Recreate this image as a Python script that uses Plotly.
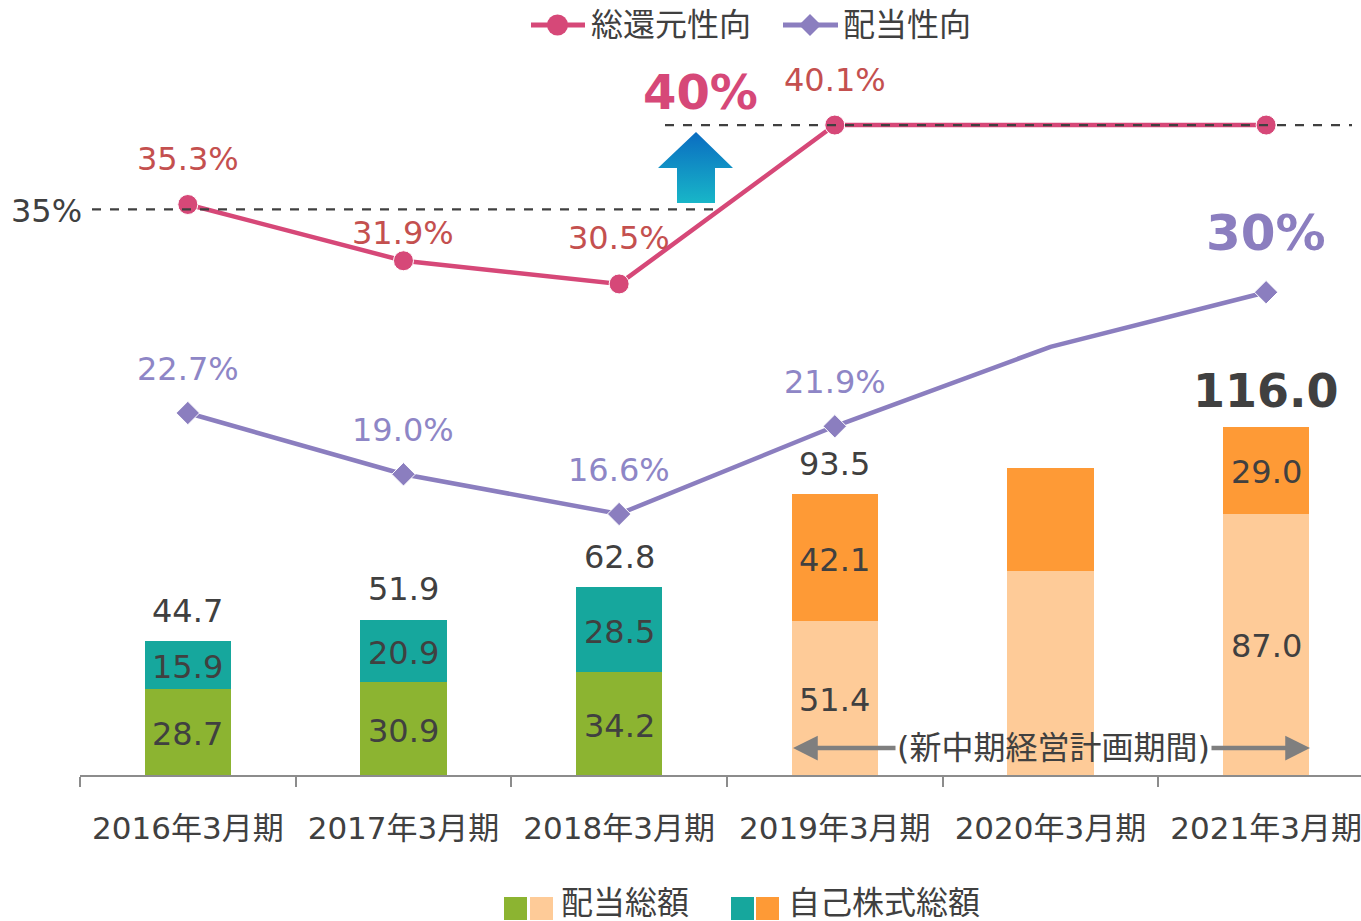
import plotly.graph_objects as go

# ---------------- data ----------------
categories = ["2016年3月期", "2017年3月期", "2018年3月期", "2019年3月期", "2020年3月期", "2021年3月期"]
dividend_total = [28.7, 30.9, 34.2, 51.4, 68.0, 87.0]
buyback_total = [15.9, 20.9, 28.5, 42.1, 34.3, 29.0]
grand_total = [44.7, 51.9, 62.8, 93.5, None, 116.0]
show_segment_labels = [True, True, True, True, False, True]
total_return_ratio = [35.3, 31.9, 30.5, 40.1, 40.1, 40.1]
payout_ratio = [22.7, 19.0, 16.6, 21.9, 26.7, 30.0]
return_labels = ["35.3%", "31.9%", "30.5%", "40.1%", "", ""]
payout_labels = ["22.7%", "19.0%", "16.6%", "21.9%", "", ""]
show_marker = [True, True, True, True, False, True]
target_return = 40
base_return = 35
target_payout = 30

# ---------------- styles ----------------
FONT = "DejaVu Sans, Verdana, Noto Sans CJK JP, sans-serif"
TXT = "#404040"
GREEN, TEAL = "#8CB431", "#16A79D"
LORANGE, ORANGE = "#FECB98", "#FE9A36"
PINK, PINK_LBL = "#D64878", "#C4504F"
PURPLE, PURPLE_LBL = "#8B7EBF", "#8E86C6"
NUM = 32

PAGE_W, PAGE_H = 1361, 921
W, H = PAGE_W, PAGE_H
# plot area in page pixels
PL, PR, PT, PB = 80, 1361, 60, 775


def PX(px):
    return (px - PL) / (PR - PL)


def PY(py):
    return (PB - py) / (PB - PT)


div_colors = [GREEN] * 3 + [LORANGE] * 3
bb_colors = [TEAL] * 3 + [ORANGE] * 3

fig = go.Figure()

fig.add_trace(go.Bar(x=categories, y=dividend_total, marker_color=div_colors,
                     marker_line_width=0, width=0.40, showlegend=False, hoverinfo="skip"))
fig.add_trace(go.Bar(x=categories, y=buyback_total, marker_color=bb_colors,
                     marker_line_width=0, width=0.40, showlegend=False, hoverinfo="skip"))

fig.add_trace(go.Scatter(x=categories, y=total_return_ratio, yaxis="y2", mode="lines+markers",
                         line=dict(color=PINK, width=4.5),
                         marker=dict(symbol="circle", color=PINK, opacity=1,
                                     size=[20 if s else 0 for s in show_marker]),
                         showlegend=False, hoverinfo="skip", cliponaxis=False))
fig.add_trace(go.Scatter(x=categories, y=payout_ratio, yaxis="y2", mode="lines+markers",
                         line=dict(color=PURPLE, width=4.5),
                         marker=dict(symbol="diamond", color=PURPLE, opacity=1,
                                     size=[18 if s else 0 for s in show_marker]),
                         showlegend=False, hoverinfo="skip", cliponaxis=False))

# gradient up arrow on a pixel overlay axis
ax_x = [696, 658, 677, 677, 715, 715, 733, 696]
ax_y = [132, 168, 168, 203, 203, 168, 168, 132]
fig.add_trace(go.Scatter(x=ax_x, y=[PAGE_H - v for v in ax_y], xaxis="x3", yaxis="y3",
                         mode="lines", line=dict(width=0), fill="toself",
                         fillgradient=dict(type="vertical",
                                           colorscale=[[0, "#18B6C8"], [1, "#0A6CC1"]],
                                           start=PAGE_H - 203, stop=PAGE_H - 132),
                         showlegend=False, hoverinfo="skip"))

ann = []
# segment labels
for i, c in enumerate(categories):
    if show_segment_labels[i]:
        ann.append(dict(x=c, y=dividend_total[i] / 2, text=f"{dividend_total[i]:.1f}",
                        showarrow=False, yshift=-2, font=dict(size=NUM, color=TXT)))
        ann.append(dict(x=c, y=dividend_total[i] + buyback_total[i] / 2,
                        text=f"{buyback_total[i]:.1f}", showarrow=False, yshift=-2,
                        font=dict(size=NUM, color=TXT)))
    if grand_total[i] is not None:
        big = i == len(categories) - 1
        ann.append(dict(x=c, y=grand_total[i],
                        text=(f"<b>{grand_total[i]:.1f}</b>" if big else f"{grand_total[i]:.1f}"),
                        showarrow=False, yanchor="middle", yshift=36 if big else 30,
                        font=dict(size=46 if big else NUM, color=TXT)))

ret_shift = [45, 28, 46, 45, 0, 0]
for i, c in enumerate(categories):
    if return_labels[i]:
        ann.append(dict(x=c, y=total_return_ratio[i], yref="y2", text=return_labels[i],
                        showarrow=False, yshift=ret_shift[i], font=dict(size=NUM, color=PINK_LBL)))
    if payout_labels[i]:
        ann.append(dict(x=c, y=payout_ratio[i], yref="y2", text=payout_labels[i],
                        showarrow=False, yshift=44, font=dict(size=NUM, color=PURPLE_LBL)))

ann.append(dict(x=PX(700), y=target_return, xref="paper", yref="y2", text=f"<b>{target_return}%</b>",
                xanchor="center", yanchor="middle",
                showarrow=False, yshift=35, font=dict(size=48, color=PINK)))
ann.append(dict(x=categories[-1], y=payout_ratio[-1], yref="y2", text=f"<b>{target_payout}%</b>",
                showarrow=False, yshift=59, font=dict(size=50, color=PURPLE)))
ann.append(dict(x=PX(84), y=base_return, xref="paper", yref="y2", text=f"{base_return}%",
                showarrow=False, xanchor="right", yanchor="middle", yshift=-2,
                font=dict(size=NUM, color=TXT)))

# medium-term plan bracket
ann.append(dict(x=PX(1053), y=PY(748), xref="paper", yref="paper", text="(新中期経営計画期間)",
                xanchor="center", yanchor="middle",
                showarrow=False, font=dict(size=32, color=TXT)))
ann.append(dict(x=PX(793), y=PY(748), xref="paper", yref="paper", text="", showarrow=True,
                ax=104, ay=0, arrowhead=2, arrowsize=1.1, arrowwidth=4.5, arrowcolor="#7F7F7F"))
ann.append(dict(x=PX(1310), y=PY(748), xref="paper", yref="paper", text="", showarrow=True,
                ax=-100, ay=0, arrowhead=2, arrowsize=1.1, arrowwidth=4.5, arrowcolor="#7F7F7F"))

# top legend texts
ann.append(dict(x=PX(589), y=PY(25), xref="paper", yref="paper", text="総還元性向",
                xanchor="left", yanchor="middle",
                showarrow=False, font=dict(size=32, color=TXT)))
ann.append(dict(x=PX(841), y=PY(25), xref="paper", yref="paper", text="配当性向",
                xanchor="left", yanchor="middle",
                showarrow=False, font=dict(size=32, color=TXT)))
# bottom legend texts
ann.append(dict(x=PX(559), y=PY(903), xref="paper", yref="paper", text="配当総額",
                xanchor="left", yanchor="middle",
                showarrow=False, font=dict(size=32, color=TXT)))
ann.append(dict(x=PX(786), y=PY(903), xref="paper", yref="paper", text="自己株式総額",
                xanchor="left", yanchor="middle",
                showarrow=False, font=dict(size=32, color=TXT)))

shapes = []
# reference dashed lines
shapes.append(dict(type="line", xref="paper", yref="y2", x0=PX(92), x1=PX(722),
                   y0=base_return, y1=base_return, line=dict(color="#404040", width=2.2, dash="dash"),
                   layer="above"))
shapes.append(dict(type="line", xref="paper", yref="y2", x0=PX(665), x1=PX(1352),
                   y0=total_return_ratio[3], y1=total_return_ratio[3],
                   line=dict(color="#404040", width=2.2, dash="dash"), layer="above"))
# top legend symbols
shapes.append(dict(type="line", xref="paper", yref="paper", x0=PX(531), x1=PX(585), y0=PY(25), y1=PY(25),
                   line=dict(color=PINK, width=5)))
shapes.append(dict(type="circle", xref="paper", yref="paper", x0=PX(547), x1=PX(568), y0=PY(35.5),
                   y1=PY(14.5), fillcolor=PINK, line=dict(width=0)))
shapes.append(dict(type="line", xref="paper", yref="paper", x0=PX(783), x1=PX(838), y0=PY(25), y1=PY(25),
                   line=dict(color=PURPLE, width=5)))
shapes.append(dict(type="path", xref="paper", yref="paper",
                   path=f"M {PX(810)} {PY(14)} L {PX(821)} {PY(25)} L {PX(810)} {PY(36)} L {PX(799)} {PY(25)} Z",
                   fillcolor=PURPLE, line=dict(width=0)))
# bottom legend squares
for x0, col in [(504, GREEN), (530, LORANGE), (731, TEAL), (756, ORANGE)]:
    shapes.append(dict(type="rect", xref="paper", yref="paper", x0=PX(x0), x1=PX(x0 + 23),
                       y0=PY(920), y1=PY(897), fillcolor=col, line=dict(width=0)))

fig.update_layout(
    width=W, height=H,
    margin=dict(l=PL, r=W - PR, t=PT, b=H - PB),
    paper_bgcolor="white", plot_bgcolor="white",
    barmode="stack", bargap=0,
    font=dict(family=FONT, color=TXT),
    showlegend=False,
    xaxis=dict(type="category", range=[-0.5, 5.44], tickson="boundaries", ticks="outside",
               ticklen=10, tickwidth=2, tickcolor="#8C8C8C", showline=True, linecolor="#8C8C8C",
               linewidth=2, showgrid=False, zeroline=False, tickfont=dict(size=31, color=TXT),
               ticklabelstandoff=25, ticklabeloverflow="allow", fixedrange=True),
    yaxis=dict(range=[0, 238.3], visible=False, fixedrange=True),
    yaxis2=dict(range=[0.83, 44.03], overlaying="y", visible=False, fixedrange=True),
    xaxis3=dict(range=[PL, PR], overlaying="x", visible=False, anchor="y3", fixedrange=True),
    yaxis3=dict(range=[PAGE_H - PB, PAGE_H - PT], overlaying="y", visible=False, anchor="x3",
                fixedrange=True),
    annotations=ann,
    shapes=shapes,
)

fig.write_html("out.html", config={"displayModeBar": False},
               post_script="document.body.style.margin='0';document.body.style.overflow='hidden';")
